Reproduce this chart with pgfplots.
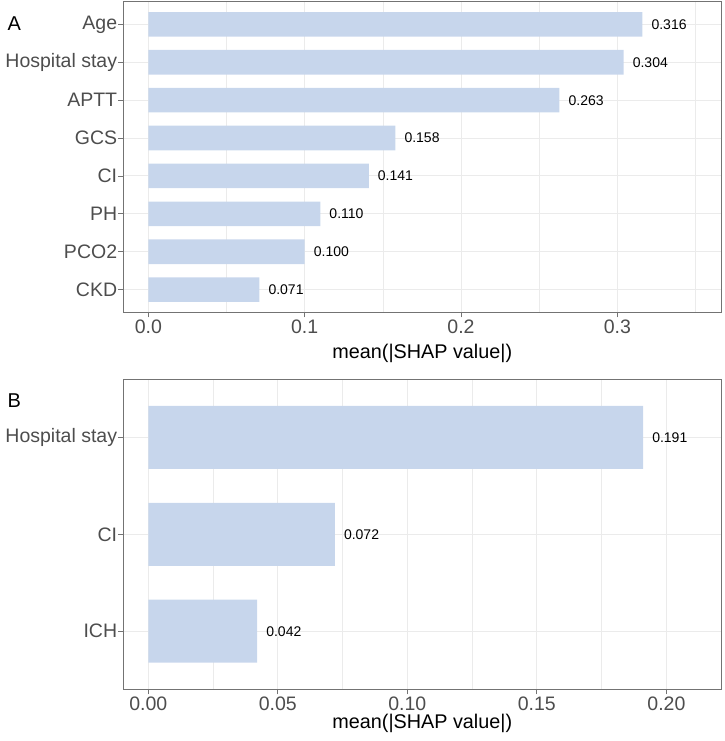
\documentclass[border=0pt]{standalone}
\usepackage{fontspec}
\setmainfont{Liberation Sans}
\usepackage{pgfplots}
\pgfplotsset{compat=1.18}

\definecolor{barblue}{RGB}{199,214,236}
\definecolor{gridgray}{RGB}{235,235,235}
\definecolor{framegray}{RGB}{115,115,115}
\definecolor{ticktext}{RGB}{77,77,77}

\pgfplotsset{
  shapbar/.style={
    scale only axis, width=598pt,
    /pgf/number format/assume math mode=true,
    xbar, bar width=0.65,
    tick align=outside, major tick length=5pt, minor tick length=0pt,
    xtick pos=bottom, ytick pos=left,
    grid=both,
    major grid style={gridgray, line width=0.9pt},
    minor grid style={gridgray, line width=0.5pt},
    axis line style={framegray, line width=0.8pt},
    every tick/.style={framegray, line width=0.8pt},
    tick label style={font=\fontsize{19.5}{20}\selectfont, text=ticktext},
    xticklabel style={anchor=north, inner sep=0pt, yshift=-2.5pt},
    yticklabel style={anchor=east, inner sep=0pt, xshift=-1pt},
    xlabel style={at={(axis description cs:0.5,0)}, anchor=base, inner sep=0pt,
      font=\fontsize{19.8}{20}\selectfont, text=black},
    point meta=x,
    nodes near coords={\pgfmathprintnumber[fixed,fixed zerofill,precision=3]{\pgfplotspointmeta}},
    nodes near coords style={anchor=west, inner sep=0pt, xshift=9pt,
      font=\fontsize{14}{14}\selectfont, text=black},
  }
}

\begin{document}
\begin{tikzpicture}
\useasboundingbox (0,0) rectangle (724pt,-741pt);

% Panel A: eight features
\begin{axis}[shapbar,
  at={(123.3pt,-1.7pt)}, anchor=north west, height=310.6pt,
  xmin=-0.016, xmax=0.3665, ymin=0.4, ymax=8.6,
  xtick={0,0.1,0.2,0.3}, xticklabels={0.0,0.1,0.2,0.3},
  minor xtick={0.05,0.15,0.25,0.35},
  ytick={1,...,8},
  yticklabels={CKD,PCO2,PH,CI,GCS,APTT,Hospital stay,Age},
  xlabel={mean(|SHAP value|)}, xlabel style={yshift=-46pt},
]
\addplot[fill=barblue, draw=none] coordinates {
  (0.071,1) (0.100,2) (0.110,3) (0.141,4)
  (0.158,5) (0.263,6) (0.304,7) (0.316,8)
};
\end{axis}

% Panel B: three features
\begin{axis}[shapbar,
  at={(123.3pt,-379.3pt)}, anchor=north west, height=310pt,
  xmin=-0.00965, xmax=0.2212, ymin=0.4, ymax=3.6,
  xtick={0,0.05,0.1,0.15,0.2}, xticklabels={0.00,0.05,0.10,0.15,0.20},
  minor xtick={0.025,0.075,0.125,0.175},
  ytick={1,2,3},
  yticklabels={ICH,CI,Hospital stay},
  xlabel={mean(|SHAP value|)}, xlabel style={yshift=-39.5pt},
]
\addplot[fill=barblue, draw=none] coordinates {
  (0.042,1) (0.072,2) (0.191,3)
};
\end{axis}

\node[anchor=base west, inner sep=0pt, font=\fontsize{20}{20}\selectfont] at (7.5pt,-31pt) {A};
\node[anchor=base west, inner sep=0pt, font=\fontsize{20}{20}\selectfont] at (7.5pt,-407.3pt) {B};
\end{tikzpicture}
\end{document}
